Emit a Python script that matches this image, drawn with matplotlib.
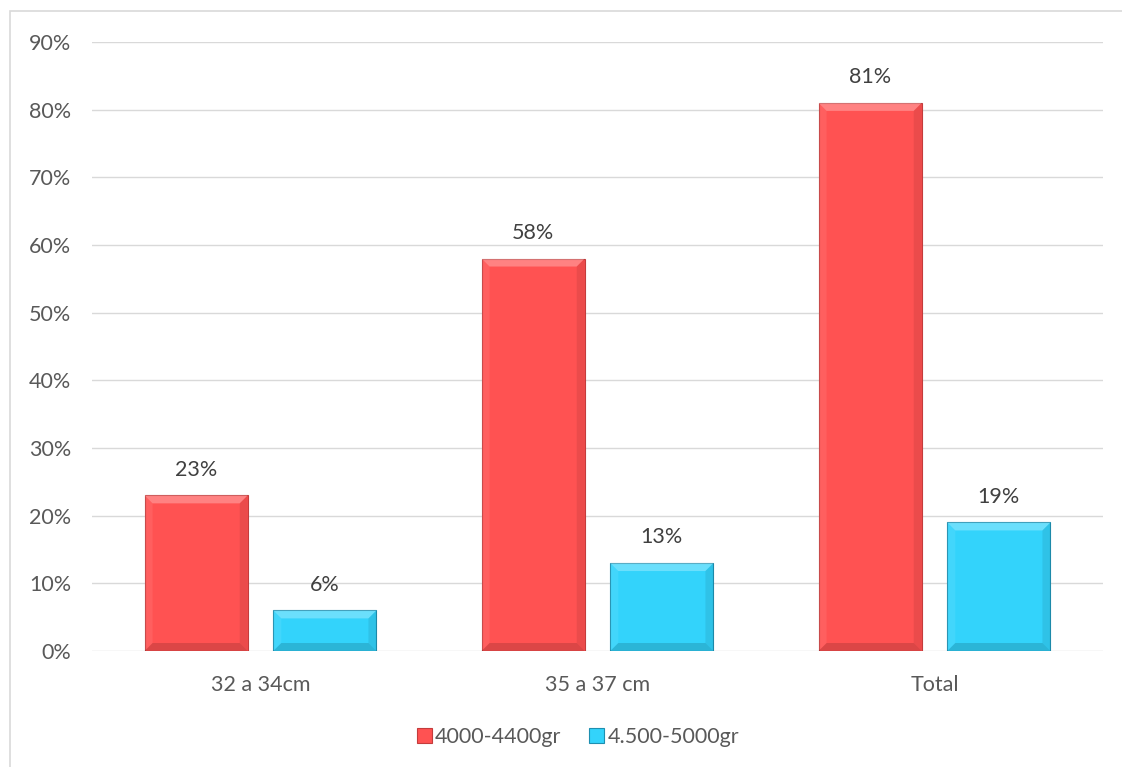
import matplotlib.pyplot as plt
from matplotlib.patches import Polygon, Rectangle

plt.rcParams['font.family'] = ['Lato', 'DejaVu Sans']

categories = ["32 a 34cm", "35 a 37 cm", "Total"]
series_names = ["4000-4400gr", "4.500-5000gr"]
peso_4000 = [23, 58, 81]
peso_4500 = [6, 13, 19]
y_ticks = [0, 10, 20, 30, 40, 50, 60, 70, 80, 90]

red = "#FF5252"
cyan = "#33D3FB"
text_col = "#595959"
fs = 15.5

W, H = 1122, 767
fig = plt.figure(figsize=(W / 100, H / 100), dpi=100)
ax = fig.add_axes([92 / W, 1 - 651 / H, (1103 - 92) / W, (651 - 42) / H])
ax.set_xlim(-0.5, 2.5)
ax.set_ylim(0, 90)

# outer chart frame (runs off the right and bottom edge)
fig.patches.append(Rectangle((10 / W, -0.02), 1.1, 1 - 11 / H + 0.02,
                             transform=fig.transFigure, fill=False,
                             edgecolor="#D9D9D9", linewidth=1.2))

width = 0.306
offset = 0.191
x = range(len(categories))

# size of one pixel in data units
px_x = 3 / (1103 - 92)
px_y = 90 / (651 - 42)


def bevel(bars):
    # light top / side facets and a darker bottom edge
    dx = 8 * px_x
    for b in bars:
        x0, y0 = b.get_x(), b.get_y()
        x1, y1 = x0 + b.get_width(), y0 + b.get_height()
        dy = min(8 * px_y, (y1 - y0) / 2)
        facets = [
            ([(x0, y1), (x1, y1), (x1 - dx, y1 - dy), (x0 + dx, y1 - dy)], "white", 0.28),
            ([(x0, y0), (x0, y1), (x0 + dx, y1 - dy), (x0 + dx, y0 + dy)], "white", 0.08),
            ([(x1, y0), (x1, y1), (x1 - dx, y1 - dy), (x1 - dx, y0 + dy)], "black", 0.08),
            ([(x0, y0), (x1, y0), (x1 - dx, y0 + dy), (x0 + dx, y0 + dy)], "black", 0.14),
        ]
        for pts, c, a in facets:
            ax.add_patch(Polygon(pts, facecolor=c, alpha=a, linewidth=0, zorder=4))


bars1 = ax.bar([i - offset for i in x], peso_4000, width, color=red,
               edgecolor="#C43C3C", linewidth=0.8, zorder=3, label=series_names[0])
bars2 = ax.bar([i + offset for i in x], peso_4500, width, color=cyan,
               edgecolor="#1E8FB0", linewidth=0.8, zorder=3, label=series_names[1])
bevel(bars1)
bevel(bars2)

for bars, vals in ((bars1, peso_4000), (bars2, peso_4500)):
    for b, v in zip(bars, vals):
        ax.text(b.get_x() + b.get_width() / 2, v + 3.8, f"{v}%", ha="center",
                va="center", fontsize=fs, color="#404040")

ax.set_yticks(y_ticks)
ax.set_yticklabels([f"{t}%" for t in y_ticks])
ax.set_xticks(list(x))
ax.set_xticklabels(categories)
ax.grid(axis="y", color="#D9D9D9", linewidth=1)
ax.set_axisbelow(True)
for s in ax.spines.values():
    s.set_visible(False)
ax.tick_params(length=0, labelsize=fs, labelcolor=text_col)
ax.tick_params(axis="y", pad=15)
ax.tick_params(axis="x", pad=17)

fig.legend(handles=[bars1, bars2], labels=series_names, loc="center",
           bbox_to_anchor=(578 / W, 1 - 737 / H), ncol=2, frameon=False,
           fontsize=fs, handlelength=0.7, handleheight=0.7, handletextpad=0.15,
           columnspacing=1.3, labelcolor=text_col)

fig.savefig("out.png", dpi=100)
